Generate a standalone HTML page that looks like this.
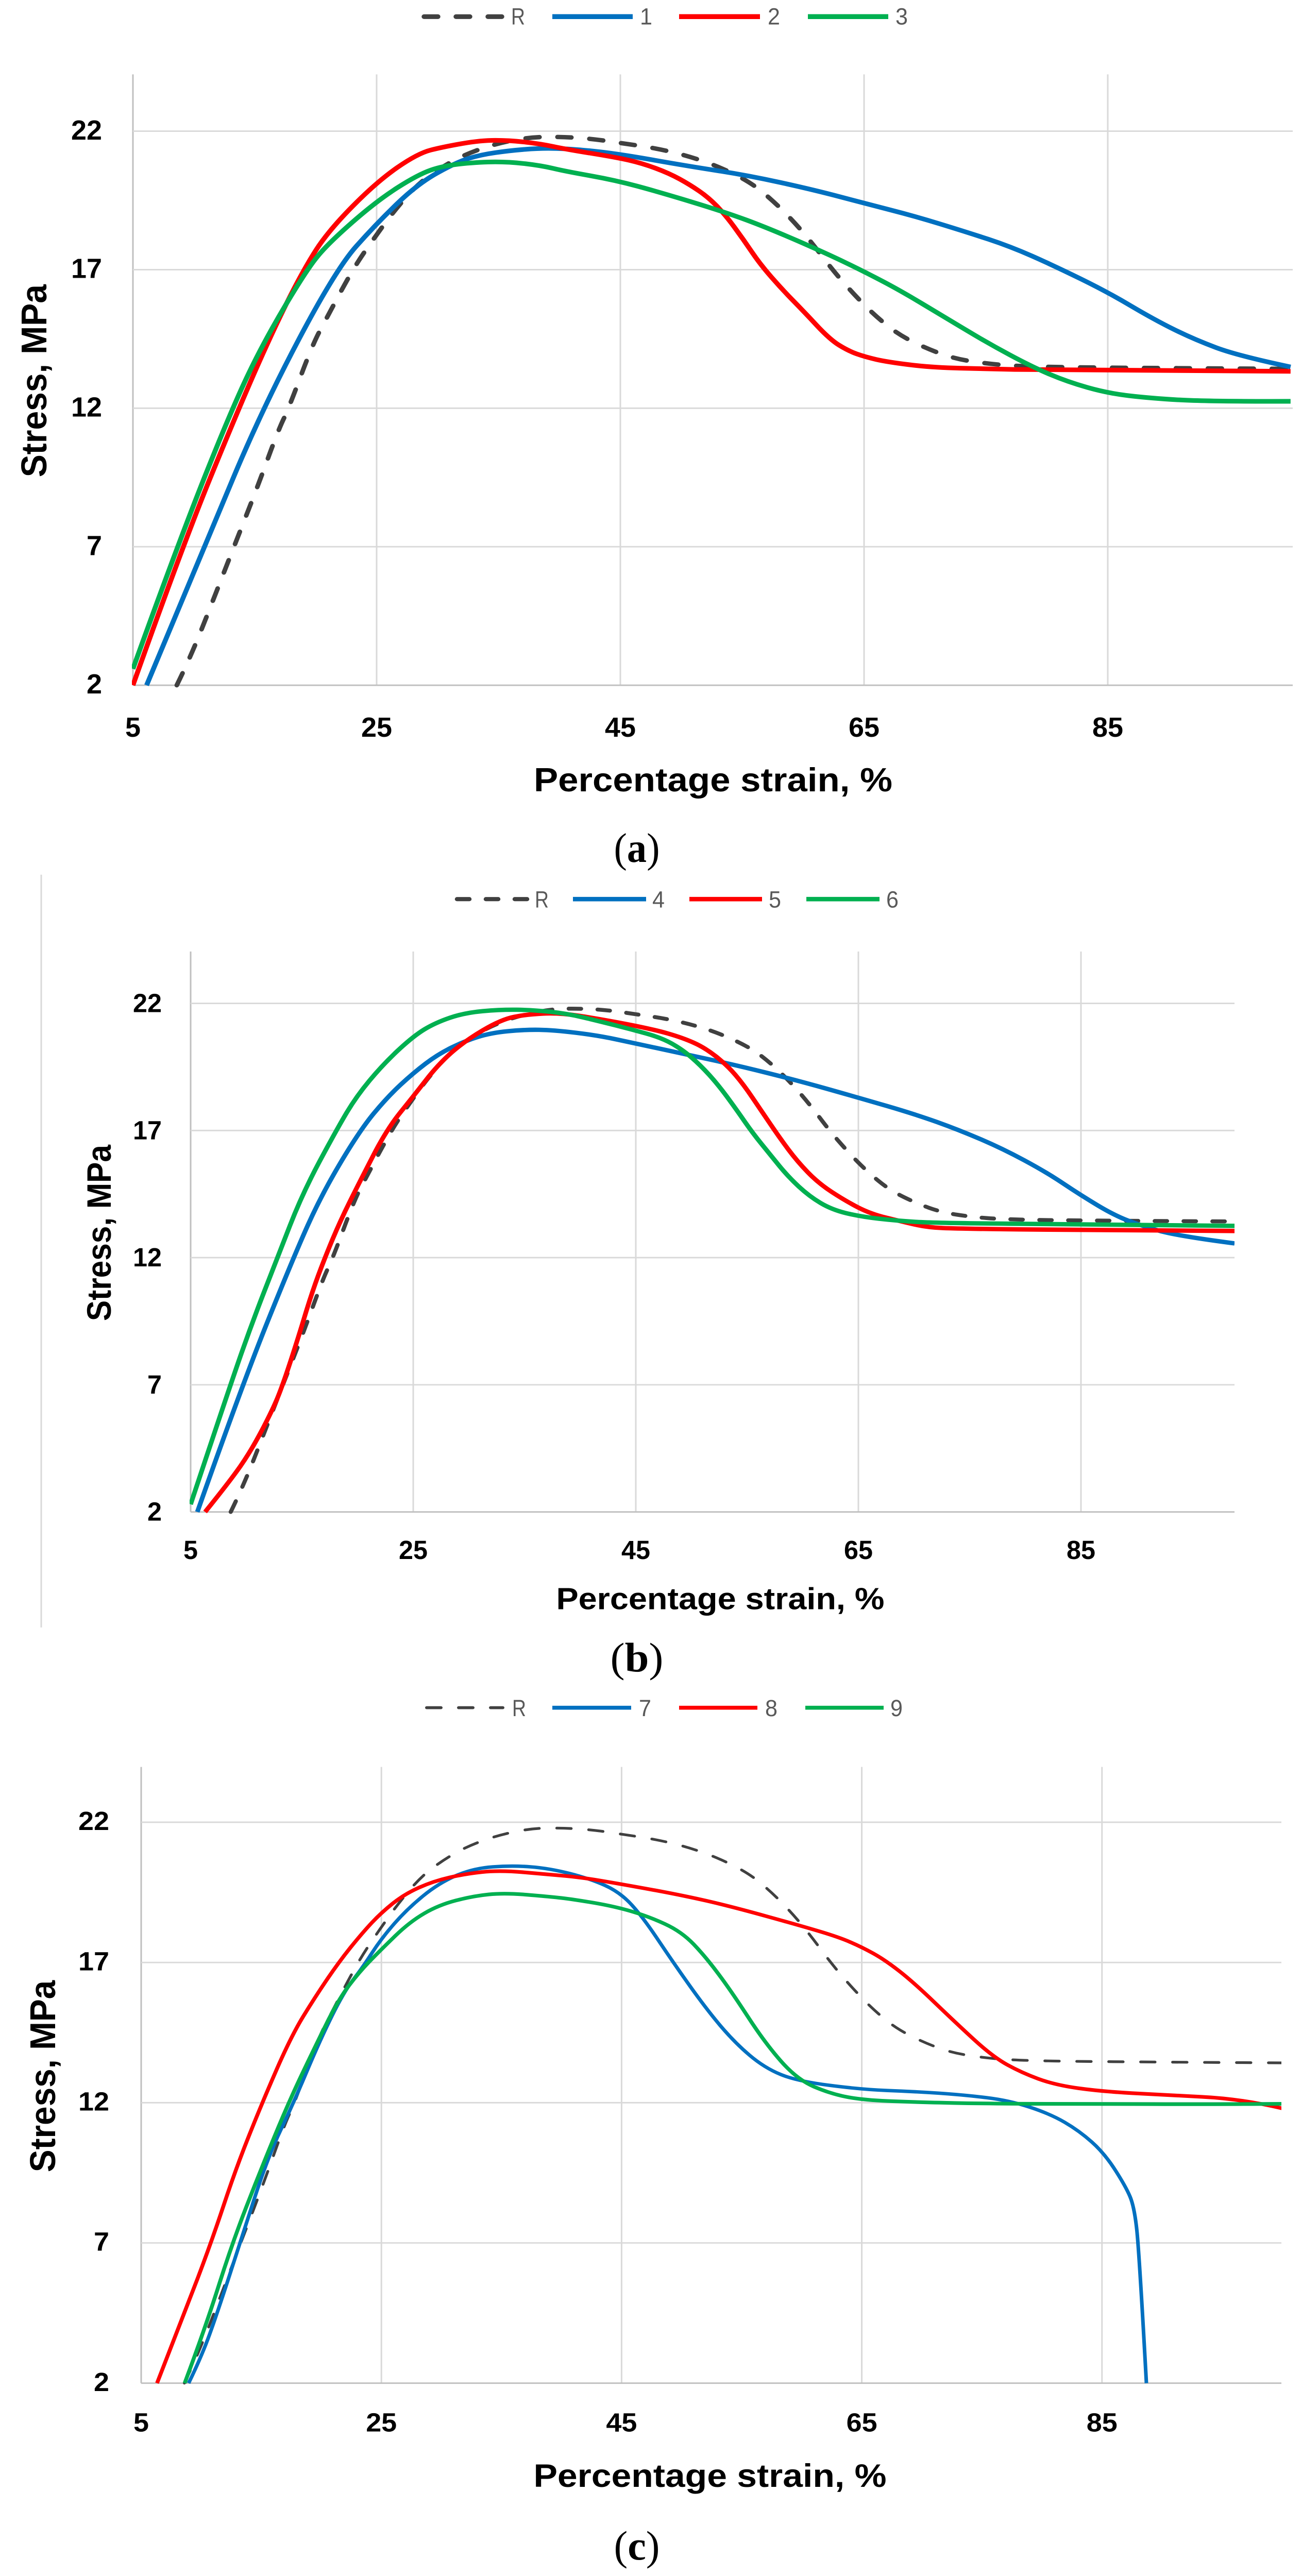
<!DOCTYPE html>
<html lang="en">
<head>
<meta charset="utf-8">
<title>Stress vs percentage strain</title>
<style>
html,body{margin:0;padding:0;background:#fff;width:100%;height:100%;overflow:hidden;}
svg{display:block;position:fixed;left:0;top:0;width:100vw;height:100vh;overflow:hidden;}
text{font-family:"Liberation Sans",sans-serif;}
.legend-label{font-size:48px;fill:#595959;}
.axis-title{font-weight:bold;fill:#000;}
.panel-label{font-family:"Liberation Serif",serif;font-size:85px;fill:#000;}
</style>
</head>
<body>
<svg id="figure" viewBox="0 0 2527 5263" preserveAspectRatio="none" xmlns="http://www.w3.org/2000/svg">
  <rect width="2527" height="5263" fill="#fff"/>

  <g id="chart-a"></g>
  <g id="chart-b"></g>
  <g id="chart-c"></g>

  <line x1="80" y1="1787" x2="80" y2="3325" stroke="#D9D9D9" stroke-width="3"/>

  <!-- Chart A static text and legend -->
  <g>
    <line x1="823" y1="34" x2="974" y2="34" stroke="#404040" stroke-width="9.5" stroke-dasharray="27 35" stroke-linecap="round"/>
    <text class="legend-label" x="992" y="50" textLength="27" lengthAdjust="spacingAndGlyphs">R</text>
    <line x1="1072" y1="34" x2="1228" y2="34" stroke="#0070C0" stroke-width="10"/>
    <text class="legend-label" x="1242" y="50" textLength="24" lengthAdjust="spacingAndGlyphs">1</text>
    <line x1="1318" y1="34" x2="1475" y2="34" stroke="#FF0000" stroke-width="10"/>
    <text class="legend-label" x="1490" y="50" textLength="24" lengthAdjust="spacingAndGlyphs">2</text>
    <line x1="1568" y1="34" x2="1724" y2="34" stroke="#00B050" stroke-width="10"/>
    <text class="legend-label" x="1738" y="50" textLength="24" lengthAdjust="spacingAndGlyphs">3</text>
  </g>
  <text class="axis-title" transform="translate(90,778) rotate(-90)" text-anchor="middle" font-size="70" textLength="394" lengthAdjust="spacingAndGlyphs">Stress, MPa</text>
  <text class="axis-title" x="1384" y="1617" text-anchor="middle" font-size="68" textLength="696" lengthAdjust="spacingAndGlyphs">Percentage strain, %</text>
  <text class="panel-label" x="1236" y="1761" text-anchor="middle" textLength="89" lengthAdjust="spacingAndGlyphs">(<tspan font-weight="bold">a</tspan>)</text>

  <!-- Chart B static text and legend -->
  <g>
    <line x1="887" y1="1837" x2="1024" y2="1837" stroke="#404040" stroke-width="8.5" stroke-dasharray="24 32" stroke-linecap="round"/>
    <text class="legend-label" x="1038" y="1854" textLength="27" lengthAdjust="spacingAndGlyphs">R</text>
    <line x1="1112" y1="1837" x2="1254" y2="1837" stroke="#0070C0" stroke-width="9"/>
    <text class="legend-label" x="1266" y="1854" textLength="24" lengthAdjust="spacingAndGlyphs">4</text>
    <line x1="1338" y1="1837" x2="1479" y2="1837" stroke="#FF0000" stroke-width="9"/>
    <text class="legend-label" x="1492" y="1854" textLength="24" lengthAdjust="spacingAndGlyphs">5</text>
    <line x1="1565" y1="1837" x2="1707" y2="1837" stroke="#00B050" stroke-width="9"/>
    <text class="legend-label" x="1720" y="1854" textLength="24" lengthAdjust="spacingAndGlyphs">6</text>
  </g>
  <text class="axis-title" transform="translate(215,2519) rotate(-90)" text-anchor="middle" font-size="66" textLength="360" lengthAdjust="spacingAndGlyphs">Stress, MPa</text>
  <text class="axis-title" x="1398" y="3288" text-anchor="middle" font-size="62" textLength="637" lengthAdjust="spacingAndGlyphs">Percentage strain, %</text>
  <text class="panel-label" x="1236" y="3415" text-anchor="middle" textLength="103" lengthAdjust="spacingAndGlyphs">(<tspan font-weight="bold">b</tspan>)</text>

  <!-- Chart C static text and legend -->
  <g>
    <line x1="828" y1="3489" x2="976" y2="3489" stroke="#404040" stroke-width="6" stroke-dasharray="28 34" stroke-linecap="round"/>
    <text class="legend-label" x="994" y="3506" textLength="27" lengthAdjust="spacingAndGlyphs">R</text>
    <line x1="1072" y1="3489" x2="1225" y2="3489" stroke="#0070C0" stroke-width="8"/>
    <text class="legend-label" x="1240" y="3506" textLength="24" lengthAdjust="spacingAndGlyphs">7</text>
    <line x1="1318" y1="3489" x2="1470" y2="3489" stroke="#FF0000" stroke-width="8"/>
    <text class="legend-label" x="1485" y="3506" textLength="24" lengthAdjust="spacingAndGlyphs">8</text>
    <line x1="1563" y1="3489" x2="1715" y2="3489" stroke="#00B050" stroke-width="8"/>
    <text class="legend-label" x="1728" y="3506" textLength="24" lengthAdjust="spacingAndGlyphs">9</text>
  </g>
  <text class="axis-title" transform="translate(107,4242) rotate(-90)" text-anchor="middle" font-size="70" textLength="392" lengthAdjust="spacingAndGlyphs">Stress, MPa</text>
  <text class="axis-title" x="1378" y="5081" text-anchor="middle" font-size="66" textLength="685" lengthAdjust="spacingAndGlyphs">Percentage strain, %</text>
  <text class="panel-label" x="1236" y="5230" text-anchor="middle" textLength="89" lengthAdjust="spacingAndGlyphs">(<tspan font-weight="bold">c</tspan>)</text>
</svg>

<script>
// Axis tick labels
const strainTicks = [5, 25, 45, 65, 85];
const stressTicks = [2, 7, 12, 17, 22];

// Reference curve R (shared by all charts)
const strainR = [8.6,9.69,11.52,13.29,15.19,16.92,17.79,19.73,20.92,22.1,23.36,24.8,26.32,28.37,30.5,32.37,34.74,37.44,40,42.6,45.2,47.7,50.2,52.7,55.4,57.2,59,60.6,62.4,64,65.8,67.8,70.2,72.5,75.2,77.9,84.2,100];
const stressR = [2,2.98,5,7,9.12,11.2,12,14.29,15.27,16.25,17.23,18.14,19.06,20.1,20.75,21.18,21.54,21.78,21.8,21.73,21.56,21.4,21.15,20.79,20.23,19.62,18.85,18.04,17,16.19,15.38,14.66,14.14,13.78,13.6,13.51,13.46,13.42];

// Chart A
const strain1 = [6.12,10.87,15.63,21.67,25,28.37,31.6,33.55,35.93,38.48,41,44.6,50.4,55.4,60.8,65.1,69.1,73.4,77,80.6,85,88.8,92.1,95.7,100];
const stress1 = [2,7,12,17.03,18.67,20.1,20.89,21.15,21.3,21.39,21.36,21.2,20.75,20.41,19.89,19.39,18.94,18.36,17.84,17.14,16.19,15.2,14.48,13.89,13.49];
const strain2 = [5,9.04,13.68,16.7,19.04,21.03,25,28.37,30.53,33.55,35.93,38.48,40.5,44.6,46.8,49,50.7,52.2,53.6,55.1,56.5,58.3,60.1,62.2,63.7,65.1,66.9,70.5,75.2,79.5,100];
const stress2 = [2,7,12,15,17.03,18.4,20.17,21.2,21.44,21.67,21.67,21.54,21.35,21.06,20.84,20.48,20.07,19.62,18.99,18.09,17.18,16.28,15.47,14.48,14.07,13.85,13.67,13.47,13.42,13.38,13.33];
const strain3 = [5,8.61,13.14,15.84,19.3,21.03,25,28.37,30.53,33.55,35.93,38.48,40.5,44.6,48.2,53.6,57.2,61.9,65.1,68,71.6,75.2,78.8,81.7,85,88.5,93.2,100];
const stress3 = [2.59,7,12.01,14.48,17.03,17.95,19.48,20.43,20.76,20.89,20.89,20.76,20.55,20.23,19.8,19.08,18.49,17.59,16.91,16.24,15.29,14.34,13.49,12.95,12.54,12.36,12.24,12.25];

// Chart B
const strain4 = [5.6,9.61,14.22,16.82,20.25,22.73,25,27.22,29.59,31.95,35,37.62,41.6,45,49.6,54.4,59.5,65.1,70.1,74,77.9,81.9,85,88.1,90.5,93.6,98.8];
const stress4 = [2,6.98,12,14.53,17.04,18.34,19.26,20,20.51,20.84,20.97,20.95,20.74,20.42,19.99,19.53,18.97,18.28,17.64,17.03,16.3,15.36,14.45,13.64,13.25,12.86,12.56];
const strain5 = [6.3,8.55,10.44,12.33,13.27,14.69,15.87,17.06,18.48,20.13,22.61,25,27.22,29.59,32.9,35.26,38.1,41.6,46.5,49.2,51.2,53.2,54.7,56.3,57.9,59.5,61.4,63.8,66.1,68.9,71.2,74,85,98.8];
const stress5 = [2,3.22,4.41,5.98,6.98,8.88,10.59,12,13.48,14.93,17.04,18.34,19.59,20.51,21.37,21.57,21.63,21.4,20.99,20.65,20.26,19.57,18.8,17.76,16.73,15.79,14.93,14.24,13.72,13.42,13.19,13.14,13.08,13.05];
const strain6 = [5,8.55,10.6,12.8,15.05,18.12,19.89,22.26,25,26.99,29.59,32.9,35.73,38.81,41.8,44.5,47.3,49.2,50.8,52.4,54,55.5,57.1,58.7,60.6,62.6,65.1,68.5,72,85,98.8];
const stress6 = [2.3,6.98,9.53,12,14.53,17.04,18.34,19.59,20.71,21.24,21.63,21.76,21.74,21.6,21.29,20.99,20.65,20.18,19.57,18.8,17.85,16.9,16.04,15.18,14.41,13.89,13.62,13.45,13.36,13.31,13.25];

// Chart C
const strain7 = [8.95,10.04,11.36,13.22,15.53,17.72,19.91,21.89,23.42,25,27.15,29.78,32.63,35.92,38.95,42.3,44.9,46.8,49.3,52,54.4,56.9,59.6,65,69.3,73.5,77.3,80.7,83.1,85.2,87,87.7,88.1,88.7];
const stress7 = [2,2.96,4.53,6.98,10.05,12.02,14.25,15.96,16.81,17.86,18.91,19.83,20.36,20.46,20.36,20,19.5,18.6,17,15.37,14.15,13.24,12.77,12.47,12.4,12.28,12.08,11.6,11,10.2,9,8.27,6.65,2];
const strain8 = [6.32,8.51,10.81,12.89,15.09,17.5,19.47,21.45,23.42,25,26.93,29.34,31.97,34.82,38.95,41.7,44.9,50,54.1,60,63.1,65,66.9,69.3,72.8,75.9,78.3,81.1,85,90,96.6,100];
const stress8 = [2,4.4,6.98,9.66,12.02,14.38,15.76,17.01,18.06,18.78,19.44,19.9,20.16,20.29,20.14,20.03,19.8,19.4,19,18.3,17.9,17.55,17.1,16.3,14.86,13.64,13.07,12.63,12.4,12.28,12.14,11.8];
const strain9 = [8.62,10.37,12.57,14.87,17.28,19.47,21.45,23.2,25,27.37,29.78,32.63,35.26,38.95,41,44.4,47.2,50,52,54.1,56.9,59.6,62.4,65,69.3,76.2,85,93.5,100];
const stress9 = [2,4.01,6.98,9.52,12.02,13.99,15.7,16.68,17.47,18.45,19.05,19.37,19.48,19.35,19.25,19,18.65,18.1,17.2,16,14.15,12.83,12.32,12.1,12.02,11.96,11.96,11.94,11.96];

const SVG_NS = 'http://www.w3.org/2000/svg';
const COLOR_R = '#404040', COLOR_BLUE = '#0070C0', COLOR_RED = '#FF0000', COLOR_GREEN = '#00B050';

// Quadratic smoothing: each read point is a control point, curve passes through midpoints
function smoothPath(pts) {
  const n = pts.length;
  let path = 'M' + pts[0][0].toFixed(1) + ' ' + pts[0][1].toFixed(1);
  for (let i = 1; i < n - 1; i++) {
    const last = i === n - 2;
    const ex = last ? pts[n - 1][0] : (pts[i][0] + pts[i + 1][0]) / 2;
    const ey = last ? pts[n - 1][1] : (pts[i][1] + pts[i + 1][1]) / 2;
    path += 'Q' + pts[i][0].toFixed(1) + ' ' + pts[i][1].toFixed(1) + ' ' + ex.toFixed(1) + ' ' + ey.toFixed(1);
  }
  return path;
}

function drawChart(id, L, seriesList) {
  const root = document.getElementById(id);
  const xPx = s => L.x5 + (s - 5) * L.ux;
  const yPx = v => L.y2 - (v - 2) * L.uy;

  strainTicks.forEach(function (t) {
    const ln = document.createElementNS(SVG_NS, 'line');
    
    
    ln.setAttribute('x1', xPx(t)); ln.setAttribute('x2', xPx(t));
    ln.setAttribute('y1', L.top); ln.setAttribute('y2', L.y2);
    ln.setAttribute('stroke', t === 5 ? '#BFBFBF' : '#D9D9D9');
    ln.setAttribute('stroke-width', 3);
    root.appendChild(ln);

    const tx = document.createElementNS(SVG_NS, 'text');
    
    
    tx.setAttribute('x', xPx(t));
    tx.setAttribute('y', L.xLabelY);
    tx.setAttribute('text-anchor', 'middle');
    tx.setAttribute('font-size', L.tickSize);
    tx.setAttribute('font-weight', 'bold');
    tx.setAttribute('fill', '#000');
    tx.setAttribute('textLength', String(t).length * L.digitW);
    tx.setAttribute('lengthAdjust', 'spacingAndGlyphs');
    tx.textContent = t;
    root.appendChild(tx);
  });

  stressTicks.forEach(function (t) {
    const ln = document.createElementNS(SVG_NS, 'line');
    
    
    ln.setAttribute('x1', L.x5); ln.setAttribute('x2', L.right);
    ln.setAttribute('y1', yPx(t)); ln.setAttribute('y2', yPx(t));
    ln.setAttribute('stroke', t === 2 ? '#BFBFBF' : '#D9D9D9');
    ln.setAttribute('stroke-width', 3);
    root.appendChild(ln);

    const tx = document.createElementNS(SVG_NS, 'text');
    
    
    tx.setAttribute('x', L.yLabelX);
    tx.setAttribute('y', yPx(t) + L.yLabelDy);
    tx.setAttribute('text-anchor', 'end');
    tx.setAttribute('font-size', L.tickSize);
    tx.setAttribute('font-weight', 'bold');
    tx.setAttribute('fill', '#000');
    tx.setAttribute('textLength', String(t).length * L.digitW);
    tx.setAttribute('lengthAdjust', 'spacingAndGlyphs');
    tx.textContent = t;
    root.appendChild(tx);
  });

  const clip = document.createElementNS(SVG_NS, 'clipPath');
  clip.setAttribute('id', id + '-clip');
  const cr = document.createElementNS(SVG_NS, 'rect');
  cr.setAttribute('x', L.x5 - 2);
  cr.setAttribute('y', L.top);
  cr.setAttribute('width', L.right - L.x5 + 2);
  cr.setAttribute('height', L.y2 + 5 - L.top);
  clip.appendChild(cr);
  root.appendChild(clip);

  seriesList.forEach(function (sr) {
    const pts = sr.x.map((s, i) => [xPx(s), yPx(sr.y[i])]);
    const p = document.createElementNS(SVG_NS, 'path');
    
    
    p.setAttribute('d', smoothPath(pts));
    p.setAttribute('fill', 'none');
    p.setAttribute('stroke', sr.color);
    p.setAttribute('stroke-width', sr.width);
    p.setAttribute('stroke-linejoin', 'round');
    if (sr.dash) {
      p.setAttribute('stroke-dasharray', sr.dash);
      p.setAttribute('stroke-linecap', 'round');
    }
    p.setAttribute('clip-path', 'url(#' + id + '-clip)');
    root.appendChild(p);
  });
}

drawChart('chart-a',
  {x5:258, ux:23.65, y2:1400, uy:56.6, top:152, right:2509, xLabelY:1505, yLabelX:198, yLabelDy:17, tickSize:57, digitW:30},
  [
    {x:strainR, y:stressR, color:COLOR_R, width:9, dash:'27 35'},
    {x:strain1, y:stress1, color:COLOR_BLUE, width:9.5},
    {x:strain2, y:stress2, color:COLOR_RED, width:9.5},
    {x:strain3, y:stress3, color:COLOR_GREEN, width:9.5}
  ]);

drawChart('chart-b',
  {x5:370, ux:21.6, y2:3089, uy:51.95, top:1944, right:2396, xLabelY:3185, yLabelX:314, yLabelDy:18, tickSize:54, digitW:28},
  [
    {x:strainR, y:stressR, color:COLOR_R, width:8, dash:'24 32'},
    {x:strain4, y:stress4, color:COLOR_BLUE, width:9},
    {x:strain5, y:stress5, color:COLOR_RED, width:9},
    {x:strain6, y:stress6, color:COLOR_GREEN, width:9}
  ]);

drawChart('chart-c',
  {x5:274, ux:23.31, y2:4869, uy:57.3, top:3610, right:2487, xLabelY:4968, yLabelX:212, yLabelDy:16, tickSize:54, digitW:30},
  [
    {x:strainR, y:stressR, color:COLOR_R, width:5.5, dash:'28 34'},
    {x:strain7, y:stress7, color:COLOR_BLUE, width:7},
    {x:strain8, y:stress8, color:COLOR_RED, width:7.5},
    {x:strain9, y:stress9, color:COLOR_GREEN, width:7.5}
  ]);
</script>
</body>
</html>
